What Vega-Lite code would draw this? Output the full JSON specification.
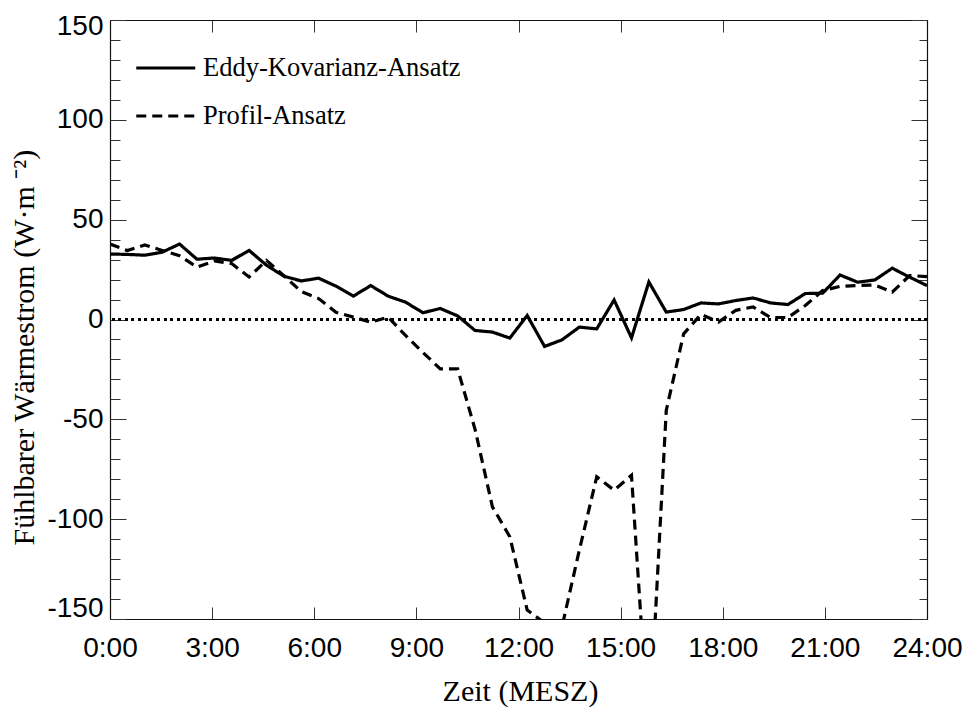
{
  "$schema": "https://vega.github.io/schema/vega-lite/v6.json",
  "width": 817,
  "height": 599,
  "autosize": {"type": "none"},
  "padding": {"left": 110, "top": 20, "right": 41, "bottom": 90},
  "background": "white",
  "config": {"view": {"stroke": null}, "axis": {"grid": false}},
  "data": {"values": [
    {"t": 0, "v": 32.8, "s": "Eddy-Kovarianz-Ansatz"},
    {"t": 0.5106, "v": 32.6, "s": "Eddy-Kovarianz-Ansatz"},
    {"t": 1.0213, "v": 32.2, "s": "Eddy-Kovarianz-Ansatz"},
    {"t": 1.5319, "v": 33.7, "s": "Eddy-Kovarianz-Ansatz"},
    {"t": 2.0426, "v": 37.8, "s": "Eddy-Kovarianz-Ansatz"},
    {"t": 2.5532, "v": 30.2, "s": "Eddy-Kovarianz-Ansatz"},
    {"t": 3.0638, "v": 30.8, "s": "Eddy-Kovarianz-Ansatz"},
    {"t": 3.5745, "v": 29.6, "s": "Eddy-Kovarianz-Ansatz"},
    {"t": 4.0851, "v": 34.6, "s": "Eddy-Kovarianz-Ansatz"},
    {"t": 4.5957, "v": 27.2, "s": "Eddy-Kovarianz-Ansatz"},
    {"t": 5.1064, "v": 21.7, "s": "Eddy-Kovarianz-Ansatz"},
    {"t": 5.617, "v": 19.3, "s": "Eddy-Kovarianz-Ansatz"},
    {"t": 6.1277, "v": 20.7, "s": "Eddy-Kovarianz-Ansatz"},
    {"t": 6.6383, "v": 16.7, "s": "Eddy-Kovarianz-Ansatz"},
    {"t": 7.1489, "v": 11.7, "s": "Eddy-Kovarianz-Ansatz"},
    {"t": 7.6596, "v": 17.0, "s": "Eddy-Kovarianz-Ansatz"},
    {"t": 8.1702, "v": 11.7, "s": "Eddy-Kovarianz-Ansatz"},
    {"t": 8.6809, "v": 8.7, "s": "Eddy-Kovarianz-Ansatz"},
    {"t": 9.1915, "v": 3.4, "s": "Eddy-Kovarianz-Ansatz"},
    {"t": 9.7021, "v": 5.5, "s": "Eddy-Kovarianz-Ansatz"},
    {"t": 10.2128, "v": 1.8, "s": "Eddy-Kovarianz-Ansatz"},
    {"t": 10.7234, "v": -5.5, "s": "Eddy-Kovarianz-Ansatz"},
    {"t": 11.234, "v": -6.3, "s": "Eddy-Kovarianz-Ansatz"},
    {"t": 11.7447, "v": -9.3, "s": "Eddy-Kovarianz-Ansatz"},
    {"t": 12.2553, "v": 2.0, "s": "Eddy-Kovarianz-Ansatz"},
    {"t": 12.766, "v": -13.5, "s": "Eddy-Kovarianz-Ansatz"},
    {"t": 13.2766, "v": -10.2, "s": "Eddy-Kovarianz-Ansatz"},
    {"t": 13.7872, "v": -3.8, "s": "Eddy-Kovarianz-Ansatz"},
    {"t": 14.2979, "v": -4.7, "s": "Eddy-Kovarianz-Ansatz"},
    {"t": 14.8085, "v": 9.8, "s": "Eddy-Kovarianz-Ansatz"},
    {"t": 15.3191, "v": -9.2, "s": "Eddy-Kovarianz-Ansatz"},
    {"t": 15.8298, "v": 18.8, "s": "Eddy-Kovarianz-Ansatz"},
    {"t": 16.3404, "v": 3.7, "s": "Eddy-Kovarianz-Ansatz"},
    {"t": 16.8511, "v": 5.0, "s": "Eddy-Kovarianz-Ansatz"},
    {"t": 17.3617, "v": 8.3, "s": "Eddy-Kovarianz-Ansatz"},
    {"t": 17.8723, "v": 7.8, "s": "Eddy-Kovarianz-Ansatz"},
    {"t": 18.383, "v": 9.5, "s": "Eddy-Kovarianz-Ansatz"},
    {"t": 18.8936, "v": 10.8, "s": "Eddy-Kovarianz-Ansatz"},
    {"t": 19.4043, "v": 8.3, "s": "Eddy-Kovarianz-Ansatz"},
    {"t": 19.9149, "v": 7.5, "s": "Eddy-Kovarianz-Ansatz"},
    {"t": 20.4255, "v": 13.0, "s": "Eddy-Kovarianz-Ansatz"},
    {"t": 20.9362, "v": 13.2, "s": "Eddy-Kovarianz-Ansatz"},
    {"t": 21.4468, "v": 22.3, "s": "Eddy-Kovarianz-Ansatz"},
    {"t": 21.9574, "v": 18.7, "s": "Eddy-Kovarianz-Ansatz"},
    {"t": 22.4681, "v": 19.8, "s": "Eddy-Kovarianz-Ansatz"},
    {"t": 22.9787, "v": 25.7, "s": "Eddy-Kovarianz-Ansatz"},
    {"t": 23.4894, "v": 21.2, "s": "Eddy-Kovarianz-Ansatz"},
    {"t": 24, "v": 17.0, "s": "Eddy-Kovarianz-Ansatz"},
    {"t": 0, "v": 37.8, "s": "Profil-Ansatz"},
    {"t": 0.5106, "v": 34.5, "s": "Profil-Ansatz"},
    {"t": 1.0213, "v": 37.3, "s": "Profil-Ansatz"},
    {"t": 1.5319, "v": 34.6, "s": "Profil-Ansatz"},
    {"t": 2.0426, "v": 32.0, "s": "Profil-Ansatz"},
    {"t": 2.5532, "v": 26.2, "s": "Profil-Ansatz"},
    {"t": 3.0638, "v": 29.3, "s": "Profil-Ansatz"},
    {"t": 3.5745, "v": 28.0, "s": "Profil-Ansatz"},
    {"t": 4.0851, "v": 21.3, "s": "Profil-Ansatz"},
    {"t": 4.5957, "v": 29.6, "s": "Profil-Ansatz"},
    {"t": 5.1064, "v": 22.0, "s": "Profil-Ansatz"},
    {"t": 5.617, "v": 14.0, "s": "Profil-Ansatz"},
    {"t": 6.1277, "v": 10.5, "s": "Profil-Ansatz"},
    {"t": 6.6383, "v": 3.6, "s": "Profil-Ansatz"},
    {"t": 7.1489, "v": 1.2, "s": "Profil-Ansatz"},
    {"t": 7.6596, "v": -1.3, "s": "Profil-Ansatz"},
    {"t": 8.1702, "v": 1.2, "s": "Profil-Ansatz"},
    {"t": 8.6809, "v": -8.0, "s": "Profil-Ansatz"},
    {"t": 9.1915, "v": -16.5, "s": "Profil-Ansatz"},
    {"t": 9.7021, "v": -24.7, "s": "Profil-Ansatz"},
    {"t": 10.2128, "v": -24.7, "s": "Profil-Ansatz"},
    {"t": 10.7234, "v": -55.0, "s": "Profil-Ansatz"},
    {"t": 11.234, "v": -93.8, "s": "Profil-Ansatz"},
    {"t": 11.7447, "v": -108.8, "s": "Profil-Ansatz"},
    {"t": 12.2553, "v": -145.5, "s": "Profil-Ansatz"},
    {"t": 12.766, "v": -152.0, "s": "Profil-Ansatz"},
    {"t": 13.2766, "v": -154.0, "s": "Profil-Ansatz"},
    {"t": 13.7872, "v": -115.5, "s": "Profil-Ansatz"},
    {"t": 14.2979, "v": -78.8, "s": "Profil-Ansatz"},
    {"t": 14.8085, "v": -85.5, "s": "Profil-Ansatz"},
    {"t": 15.3191, "v": -78.0, "s": "Profil-Ansatz"},
    {"t": 15.8298, "v": -210.0, "s": "Profil-Ansatz"},
    {"t": 16.3404, "v": -45.5, "s": "Profil-Ansatz"},
    {"t": 16.8511, "v": -7.2, "s": "Profil-Ansatz"},
    {"t": 17.3617, "v": 2.6, "s": "Profil-Ansatz"},
    {"t": 17.8723, "v": -1.3, "s": "Profil-Ansatz"},
    {"t": 18.383, "v": 4.6, "s": "Profil-Ansatz"},
    {"t": 18.8936, "v": 6.3, "s": "Profil-Ansatz"},
    {"t": 19.4043, "v": 1.0, "s": "Profil-Ansatz"},
    {"t": 19.9149, "v": 1.0, "s": "Profil-Ansatz"},
    {"t": 20.4255, "v": 7.0, "s": "Profil-Ansatz"},
    {"t": 20.9362, "v": 14.5, "s": "Profil-Ansatz"},
    {"t": 21.4468, "v": 16.6, "s": "Profil-Ansatz"},
    {"t": 21.9574, "v": 17.0, "s": "Profil-Ansatz"},
    {"t": 22.4681, "v": 17.3, "s": "Profil-Ansatz"},
    {"t": 22.9787, "v": 13.7, "s": "Profil-Ansatz"},
    {"t": 23.4894, "v": 22.0, "s": "Profil-Ansatz"},
    {"t": 24, "v": 21.5, "s": "Profil-Ansatz"}
  ]},
  "layer": [
    {
      "mark": {"type": "rule", "color": "black", "strokeWidth": 1.4, "strokeDash": [2.5, 4]},
      "encoding": {
        "y": {"datum": 0, "type": "quantitative", "scale": {"domain": [-150, 150], "nice": false, "zero": false}, "axis": null}
      }
    },
    {
      "mark": {"type": "line", "color": "black", "strokeWidth": 3.2, "clip": true},
      "encoding": {
        "x": {"field": "t", "type": "quantitative",
          "scale": {"domain": [0, 24], "nice": false, "zero": false},
          "axis": {"orient": "bottom", "values": [0, 3, 6, 9, 12, 15, 18, 21, 24], "labelExpr": "datum.value + ':00'",
            "tickSize": -12, "tickColor": "#333", "domainColor": "#111", "domainWidth": 1.2,
            "labelFont": "Liberation Sans", "labelFontSize": 28, "labelColor": "black", "labelBaseline": "alphabetic", "labelPadding": 49, "labelFlush": false, "labelOverlap": false,
            "title": "Zeit (MESZ)", "titleFont": "Liberation Serif", "titleFontSize": 30, "titleFontWeight": "normal", "titleColor": "black",
            "titleBaseline": "alphabetic", "titleY": 81, "titleX": 410, "titleAlign": "center"}},
        "y": {"field": "v", "type": "quantitative",
          "scale": {"domain": [-150, 150], "nice": false, "zero": false},
          "axis": {"orient": "left", "values": [-150, -100, -50, 0, 50, 100, 150], "labelExpr": "'' + datum.value",
            "tickSize": -16, "tickColor": "#333", "domainColor": "#111", "domainWidth": 1.2,
            "labelFont": "Liberation Sans", "labelFontSize": 28, "labelColor": "black", "labelAlign": "right", "labelBaseline": "middle", "labelPadding": 23, "labelFlush": false, "labelOverlap": false,
            "labelOffset": {"condition": [{"test": "datum.value === 150", "value": 6}, {"test": "datum.value === -150", "value": -11}], "value": 0},
            "title": "Fühlbarer Wärmestrom (W·m ⁻²)", "titleFont": "Liberation Serif", "titleFontSize": 30, "titleFontWeight": "normal", "titleColor": "black",
            "titleAngle": -90, "titleAlign": "left", "titleBaseline": "alphabetic", "titleX": -77, "titleY": 525}},
        "strokeDash": {"field": "s", "type": "nominal",
          "scale": {"domain": ["Eddy-Kovarianz-Ansatz", "Profil-Ansatz"], "range": [[1, 0], [10, 6]]},
          "legend": {"orient": "none", "legendX": 22.5, "legendY": 24, "title": null, "padding": 0, "clipHeight": 48, "rowPadding": 0,
            "symbolType": "M-2.95,0H2.95", "symbolSize": 400, "symbolOffset": 20, "symbolStrokeWidth": 3.2, "symbolStrokeColor": "black", "symbolFillColor": "transparent",
            "labelFont": "Liberation Serif", "labelFontSize": 26.5, "labelColor": "black", "labelOffset": 24, "labelLimit": 0}}
      }
    },
    {
      "mark": {"type": "point", "opacity": 0},
      "encoding": {
        "x": {"field": "t", "type": "quantitative", "scale": {"domain": [0, 24], "nice": false, "zero": false},
          "axis": {"orient": "top", "values": [0, 3, 6, 9, 12, 15, 18, 21, 24], "tickSize": -12, "tickColor": "#333", "labels": false, "title": null, "domain": true, "domainColor": "#111", "domainWidth": 1.2}},
        "y": {"field": "v", "type": "quantitative", "scale": {"domain": [-150, 150], "nice": false, "zero": false},
          "axis": {"orient": "left", "values": [-150, -140, -130, -120, -110, -100, -90, -80, -70, -60, -50, -40, -30, -20, -10, 0, 10, 20, 30, 40, 50, 60, 70, 80, 90, 100, 110, 120, 130, 140, 150], "tickSize": -10, "tickColor": "#333", "labels": false, "title": null, "domain": false}}
      }
    },
    {
      "mark": {"type": "point", "opacity": 0},
      "encoding": {
        "x": {"field": "t", "type": "quantitative", "scale": {"domain": [0, 24], "nice": false, "zero": false}, "axis": null},
        "y": {"field": "v", "type": "quantitative", "scale": {"domain": [-150, 150], "nice": false, "zero": false},
          "axis": {"orient": "right", "values": [-150, -100, -50, 0, 50, 100, 150], "tickSize": -16, "tickColor": "#333", "labels": false, "title": null, "domain": true, "domainColor": "#111", "domainWidth": 1.2}}
      }
    },
    {
      "mark": {"type": "point", "opacity": 0},
      "encoding": {
        "x": {"field": "t", "type": "quantitative", "scale": {"domain": [0, 24], "nice": false, "zero": false}, "axis": null},
        "y": {"field": "v", "type": "quantitative", "scale": {"domain": [-150, 150], "nice": false, "zero": false},
          "axis": {"orient": "right", "values": [-150, -140, -130, -120, -110, -100, -90, -80, -70, -60, -50, -40, -30, -20, -10, 0, 10, 20, 30, 40, 50, 60, 70, 80, 90, 100, 110, 120, 130, 140, 150], "tickSize": -8, "tickColor": "#333", "labels": false, "title": null, "domain": false}}
      }
    }
  ],
  "resolve": {"axis": {"x": "independent", "y": "independent"}}
}
